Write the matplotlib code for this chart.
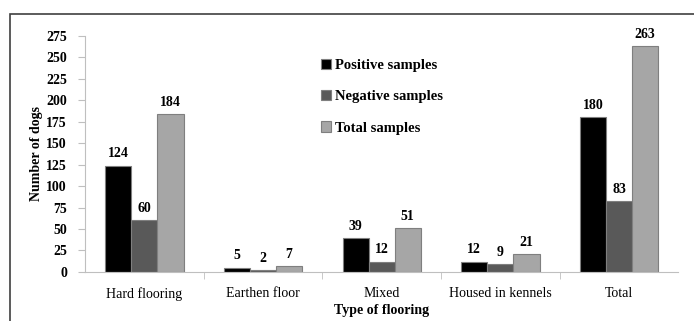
import numpy as np
import matplotlib.pyplot as plt
from matplotlib.patches import Rectangle

categories = ['Hard flooring', 'Earthen floor', 'Mixed', 'Housed in kennels', 'Total']
positive = [124, 5, 39, 12, 180]
negative = [60, 2, 12, 9, 83]
total = [184, 7, 51, 21, 263]
series_names = ['Positive samples', 'Negative samples', 'Total samples']
colors = ['#000000', '#595959', '#a6a6a6']

plt.rcParams['font.family'] = ['Liberation Serif', 'DejaVu Serif']

fig = plt.figure(figsize=(6.94, 3.21), dpi=100)
ax = fig.add_axes([0.1225, 0.153, 0.855, 0.735])

# outer frame (only top and left edges visible in the image)
fig.patches.append(Rectangle((10/694, -0.1), 1.2, 1 - 14/321 + 0.1, transform=fig.transFigure,
                             fill=False, edgecolor='#404040', linewidth=1.2))

x = np.arange(len(categories))
w = 0.22
for i, (vals, name, c) in enumerate(zip([positive, negative, total], series_names, colors)):
    bars = ax.bar(x + (i - 1) * w, vals, w, color=c, edgecolor='#7f7f7f', linewidth=0.8, label=name)
    for b, v in zip(bars, vals):
        ax.text(b.get_x() + b.get_width() / 2, v + 6, str(v), ha='center', va='bottom',
                fontsize=10, fontweight='bold')

ax.set_xlim(-0.5, 4.5)
ax.set_ylim(0, 275)
ax.set_yticks(np.arange(0, 276, 25))
ax.set_yticklabels([str(t) for t in range(0, 276, 25)], fontweight='bold', fontsize=10)
ax.set_xticks(x)
ax.set_xticklabels(categories, fontsize=10)
ax.tick_params(axis='x', length=0, pad=11)
ax.set_xticks(np.arange(0.5, 4.5, 1), minor=True)
ax.tick_params(axis='x', which='minor', length=5, color='#bfbfbf')
ax.tick_params(axis='y', length=5, color='#bfbfbf', pad=8)

for s in ['top', 'right']:
    ax.spines[s].set_visible(False)
for s in ['left', 'bottom']:
    ax.spines[s].set_color('#bfbfbf')

ax.set_ylabel('Number of dogs', fontweight='bold', fontsize=10, labelpad=2)
ax.set_xlabel('Type of flooring', fontweight='bold', fontsize=10, labelpad=2)

leg = ax.legend(loc='upper left', bbox_to_anchor=(0.375, 0.96), frameon=False,
                prop={'weight': 'bold', 'size': 10.5}, handlelength=0.7, handleheight=0.7,
                labelspacing=1.25, handletextpad=0.3)

fig.savefig('out.png', dpi=100)
